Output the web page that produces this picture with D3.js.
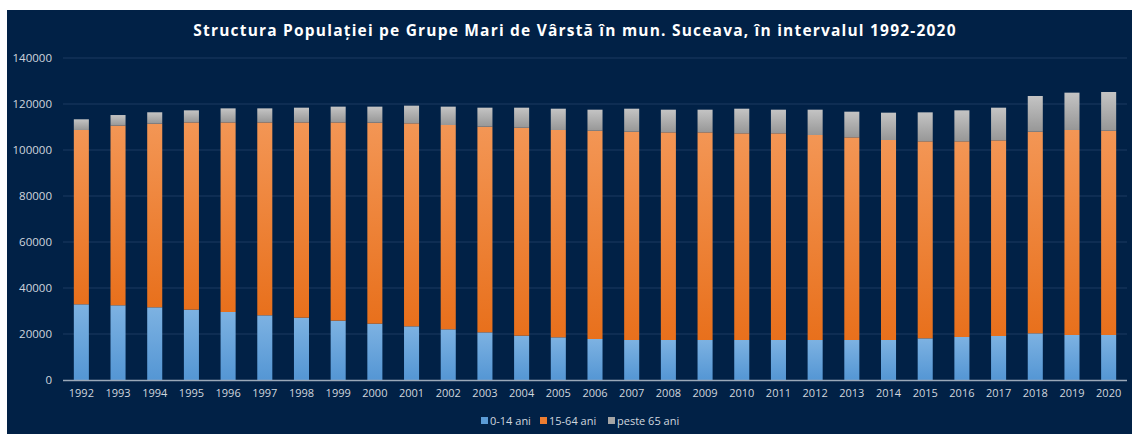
<!DOCTYPE html>
<html><head><meta charset="utf-8">
<script src="https://cdn.jsdelivr.net/npm/d3@7"></script>
<style>body{margin:0;background:#fff}svg{display:block}</style>
</head><body>
<script>
const years = [1992,1993,1994,1995,1996,1997,1998,1999,2000,2001,2002,2003,2004,2005,2006,2007,2008,2009,2010,2011,2012,2013,2014,2015,2016,2017,2018,2019,2020];
const age0_14 = [32900,32470,31600,30580,29570,28120,27100,25800,24490,23330,22030,20720,19270,18550,17830,17390,17390,17390,17390,17390,17390,17390,17390,18110,18700,19130,20290,19570,19570];
const age15_64 = [75800,78130,79850,81420,82430,83880,84900,86200,87410,88270,88840,89430,90430,90150,90570,90580,90290,90290,89860,89860,89130,88110,86960,85660,85070,85070,87680,89130,88830];
const age65 = [4650,4600,4950,5250,6100,6100,6400,6850,6950,7680,7980,8250,8700,9260,9130,9990,9850,9850,10710,10280,11010,11160,11880,12600,13480,14200,15510,16230,16820];
const seriesNames = ["0-14 ani","15-64 ani","peste 65 ani"];
const yTicks = [0,20000,40000,60000,80000,100000,120000,140000];
const title = "Structura Populației pe Grupe Mari de Vârstă în mun. Suceava, în intervalul 1992-2020";

const W=1132,H=434;
const svg=d3.select("body").append("svg").attr("width",W).attr("height",H);
const defs=svg.append("defs");
function grad(id,top,bot){
  const g=defs.append("linearGradient").attr("id",id).attr("x1",0).attr("y1",0).attr("x2",0).attr("y2",1);
  g.append("stop").attr("offset","0%").attr("stop-color",top);
  g.append("stop").attr("offset","100%").attr("stop-color",bot);
}
grad("gb","#7db2e2","#5496d4");
grad("go","#f39655","#e8701c");
grad("gg","#c4c4c4","#979797");
const fills=["url(#gb)","url(#go)","url(#gg)"];
const legendColors=["#5b9bd5","#ed7d31","#a5a5a5"];

svg.append("rect").attr("x",7).attr("y",10).attr("width",W-7).attr("height",H-10).attr("fill","#012146");

const x=d3.scaleBand().domain(years).range([63,1127]).paddingInner(0.59).paddingOuter(0.295);
const y=d3.scaleLinear().domain([0,140000]).range([380,58]);

// grid
svg.append("g").selectAll("line").data(yTicks.filter(d=>d>0)).join("line")
  .attr("x1",63).attr("x2",1127).attr("y1",d=>y(d)).attr("y2",d=>y(d))
  .attr("stroke","#1d3b60").attr("stroke-width",1);

const data=years.map((yr,i)=>({year:yr,a:age0_14[i],b:age15_64[i],c:age65[i]}));
const stack=d3.stack().keys(["a","b","c"])(data);
svg.append("g").selectAll("g").data(stack).join("g").attr("fill",(d,i)=>fills[i])
  .selectAll("rect").data(d=>d).join("rect")
  .attr("x",d=>x(d.data.year)).attr("width",x.bandwidth())
  .attr("y",d=>y(d[1])).attr("height",d=>y(d[0])-y(d[1]));

// axis line
svg.append("line").attr("x1",63).attr("x2",1127).attr("y1",380.5).attr("y2",380.5).attr("stroke","#9aa8b8").attr("stroke-width",1.5);

const font="'Open Sans', 'DejaVu Sans', sans-serif";
const yAxis=svg.append("g").attr("transform","translate(52,0)").call(d3.axisLeft(y).tickValues(yTicks).tickSize(0).tickPadding(0).tickFormat(d3.format("d")));
yAxis.select(".domain").remove();
yAxis.selectAll("text").attr("fill","#d0d6de").attr("font-size",11.5).attr("font-family",font);

const xAxis=svg.append("g").attr("transform","translate(0,380)").call(d3.axisBottom(x).tickSize(0).tickPadding(9));
xAxis.select(".domain").remove();
xAxis.selectAll("text").attr("fill","#d0d6de").attr("font-size",11).attr("font-family",font);

svg.append("text").attr("x",575).attr("y",36).attr("text-anchor","middle")
  .attr("fill","#ffffff").attr("font-weight","bold").attr("font-size",15.5).attr("letter-spacing",1.2)
  .attr("font-family",font).text(title);

// legend
const lg=svg.append("g").attr("font-family",font).attr("font-size",11).attr("fill","#d0d6de");
const lx=[481,540,608];
seriesNames.forEach((n,i)=>{
  lg.append("rect").attr("x",lx[i]).attr("y",417).attr("width",7).attr("height",7).attr("fill",legendColors[i]);
  lg.append("text").attr("x",lx[i]+9).attr("y",424.5).text(n);
});
</script>
</body></html>
